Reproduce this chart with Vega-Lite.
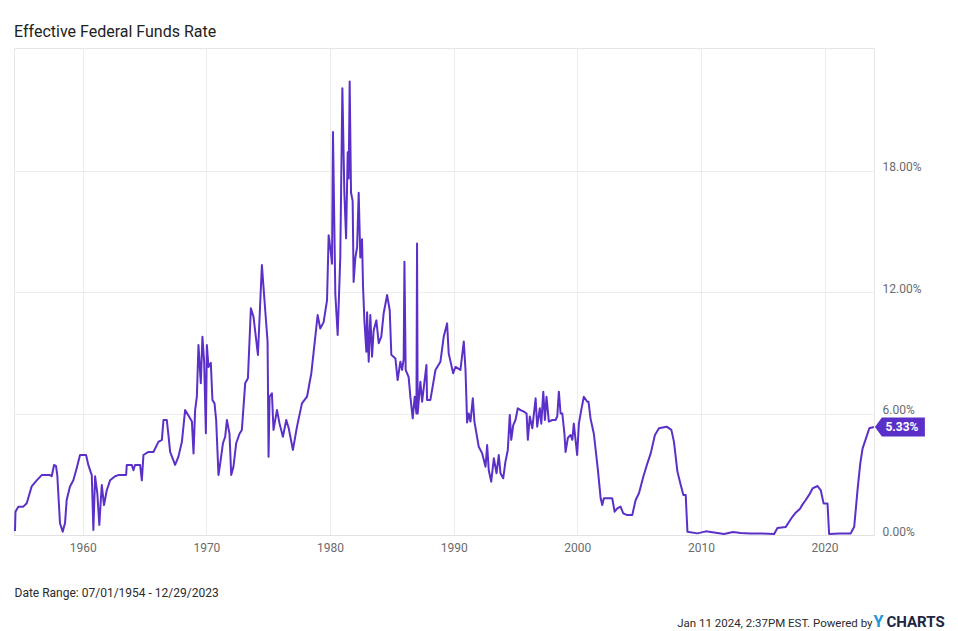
{
  "$schema": "https://vega.github.io/schema/vega-lite/v6.json",
  "width": 860,
  "height": 487,
  "autosize": {"type": "none"},
  "padding": {"left": 14, "top": 48, "right": 84, "bottom": 96},
  "background": "#ffffff",
  "title": {
    "text": "Effective Federal Funds Rate",
    "anchor": "start",
    "frame": "group",
    "font": "Roboto",
    "fontSize": 16,
    "fontWeight": "normal",
    "color": "#222222",
    "baseline": "alphabetic",
    "offset": 11,
    "dy": 16
  },
  "config": {
    "view": {"stroke": "#e6e6e6", "strokeWidth": 1},
    "axis": {"labelFont": "Roboto", "titleFont": "Roboto"}
  },
  "data": {
    "values": [
      {"year": 1954.52, "rate": 0.2}, {"year": 1954.56, "rate": 1.15}, {"year": 1954.79, "rate": 1.4}, {"year": 1955.19, "rate": 1.4},
      {"year": 1955.47, "rate": 1.57}, {"year": 1955.87, "rate": 2.4}, {"year": 1956.28, "rate": 2.7}, {"year": 1956.68, "rate": 2.96},
      {"year": 1957.35, "rate": 2.96}, {"year": 1957.49, "rate": 2.9}, {"year": 1957.68, "rate": 3.46}, {"year": 1957.84, "rate": 3.4},
      {"year": 1957.94, "rate": 2.96}, {"year": 1958.16, "rate": 0.58}, {"year": 1958.38, "rate": 0.16}, {"year": 1958.57, "rate": 0.6},
      {"year": 1958.7, "rate": 1.73}, {"year": 1958.97, "rate": 2.4}, {"year": 1959.24, "rate": 2.7}, {"year": 1959.51, "rate": 3.3},
      {"year": 1959.78, "rate": 3.95}, {"year": 1960.27, "rate": 3.95}, {"year": 1960.45, "rate": 3.46}, {"year": 1960.73, "rate": 2.96},
      {"year": 1960.86, "rate": 0.25}, {"year": 1961.0, "rate": 2.9}, {"year": 1961.18, "rate": 2.06}, {"year": 1961.34, "rate": 0.5},
      {"year": 1961.54, "rate": 2.47}, {"year": 1961.72, "rate": 1.48}, {"year": 1961.94, "rate": 2.2}, {"year": 1962.21, "rate": 2.7},
      {"year": 1962.62, "rate": 2.9}, {"year": 1962.88, "rate": 2.96}, {"year": 1963.51, "rate": 2.96}, {"year": 1963.56, "rate": 3.46},
      {"year": 1963.97, "rate": 3.46}, {"year": 1964.1, "rate": 3.2}, {"year": 1964.23, "rate": 3.46}, {"year": 1964.64, "rate": 3.46},
      {"year": 1964.78, "rate": 2.7}, {"year": 1964.91, "rate": 3.95}, {"year": 1965.31, "rate": 4.1}, {"year": 1965.72, "rate": 4.1},
      {"year": 1966.12, "rate": 4.6}, {"year": 1966.4, "rate": 4.7}, {"year": 1966.53, "rate": 5.68}, {"year": 1966.8, "rate": 5.68},
      {"year": 1966.93, "rate": 4.94}, {"year": 1967.07, "rate": 4.1}, {"year": 1967.47, "rate": 3.46}, {"year": 1967.74, "rate": 3.87},
      {"year": 1968.02, "rate": 4.6}, {"year": 1968.28, "rate": 6.17}, {"year": 1968.55, "rate": 5.9}, {"year": 1968.83, "rate": 5.6},
      {"year": 1968.96, "rate": 4.03}, {"year": 1969.09, "rate": 6.17}, {"year": 1969.23, "rate": 6.83}, {"year": 1969.36, "rate": 9.38},
      {"year": 1969.55, "rate": 7.5}, {"year": 1969.68, "rate": 9.79}, {"year": 1969.82, "rate": 8.56}, {"year": 1969.96, "rate": 5.02},
      {"year": 1970.04, "rate": 9.38}, {"year": 1970.17, "rate": 8.3}, {"year": 1970.36, "rate": 8.5}, {"year": 1970.49, "rate": 6.67},
      {"year": 1970.66, "rate": 6.5}, {"year": 1970.79, "rate": 5.68}, {"year": 1970.98, "rate": 2.96}, {"year": 1971.12, "rate": 3.54},
      {"year": 1971.34, "rate": 4.53}, {"year": 1971.52, "rate": 4.85}, {"year": 1971.66, "rate": 5.68}, {"year": 1971.87, "rate": 5.0},
      {"year": 1972.01, "rate": 2.96}, {"year": 1972.19, "rate": 3.37}, {"year": 1972.41, "rate": 4.53}, {"year": 1972.68, "rate": 5.0},
      {"year": 1972.87, "rate": 5.19}, {"year": 1973.14, "rate": 7.49}, {"year": 1973.36, "rate": 7.74}, {"year": 1973.6, "rate": 11.2},
      {"year": 1973.81, "rate": 10.78}, {"year": 1974.17, "rate": 8.89}, {"year": 1974.49, "rate": 13.33}, {"year": 1974.76, "rate": 11.1},
      {"year": 1974.95, "rate": 9.55}, {"year": 1975.03, "rate": 3.87}, {"year": 1975.11, "rate": 6.83}, {"year": 1975.3, "rate": 7.0},
      {"year": 1975.43, "rate": 5.19}, {"year": 1975.71, "rate": 6.17}, {"year": 1975.92, "rate": 5.5}, {"year": 1976.19, "rate": 4.85},
      {"year": 1976.46, "rate": 5.68}, {"year": 1976.65, "rate": 5.3}, {"year": 1977.0, "rate": 4.2}, {"year": 1977.33, "rate": 5.35},
      {"year": 1977.73, "rate": 6.5}, {"year": 1978.14, "rate": 6.83}, {"year": 1978.49, "rate": 7.99}, {"year": 1979.0, "rate": 10.86},
      {"year": 1979.21, "rate": 10.2}, {"year": 1979.48, "rate": 10.5}, {"year": 1979.76, "rate": 11.6}, {"year": 1979.89, "rate": 14.8},
      {"year": 1980.08, "rate": 13.9}, {"year": 1980.16, "rate": 13.4}, {"year": 1980.24, "rate": 19.9}, {"year": 1980.43, "rate": 11.9},
      {"year": 1980.62, "rate": 9.88}, {"year": 1980.83, "rate": 13.7}, {"year": 1981.0, "rate": 22.06}, {"year": 1981.16, "rate": 16.9},
      {"year": 1981.3, "rate": 14.65}, {"year": 1981.43, "rate": 18.9}, {"year": 1981.51, "rate": 17.6}, {"year": 1981.59, "rate": 22.4},
      {"year": 1981.7, "rate": 16.9}, {"year": 1981.83, "rate": 16.5}, {"year": 1981.91, "rate": 12.5}, {"year": 1982.05, "rate": 13.7},
      {"year": 1982.19, "rate": 14.2}, {"year": 1982.32, "rate": 16.9}, {"year": 1982.45, "rate": 13.7}, {"year": 1982.59, "rate": 14.6},
      {"year": 1982.67, "rate": 12.3}, {"year": 1982.78, "rate": 10.6}, {"year": 1982.94, "rate": 9.05}, {"year": 1983.0, "rate": 11.0},
      {"year": 1983.13, "rate": 8.56}, {"year": 1983.26, "rate": 10.86}, {"year": 1983.4, "rate": 8.8}, {"year": 1983.53, "rate": 10.1},
      {"year": 1983.75, "rate": 10.6}, {"year": 1983.94, "rate": 9.47}, {"year": 1984.15, "rate": 9.8}, {"year": 1984.34, "rate": 10.95},
      {"year": 1984.62, "rate": 11.85}, {"year": 1984.83, "rate": 11.1}, {"year": 1984.96, "rate": 8.9}, {"year": 1985.29, "rate": 8.72},
      {"year": 1985.47, "rate": 7.65}, {"year": 1985.69, "rate": 8.56}, {"year": 1985.83, "rate": 8.15}, {"year": 1985.96, "rate": 8.7},
      {"year": 1986.02, "rate": 13.5}, {"year": 1986.12, "rate": 8.15}, {"year": 1986.36, "rate": 7.8}, {"year": 1986.5, "rate": 6.83},
      {"year": 1986.69, "rate": 5.76}, {"year": 1986.85, "rate": 6.83}, {"year": 1986.99, "rate": 6.0}, {"year": 1987.04, "rate": 14.4},
      {"year": 1987.09, "rate": 6.0}, {"year": 1987.31, "rate": 7.57}, {"year": 1987.45, "rate": 6.58}, {"year": 1987.8, "rate": 8.4},
      {"year": 1987.85, "rate": 6.67}, {"year": 1988.12, "rate": 6.67}, {"year": 1988.53, "rate": 8.15}, {"year": 1988.93, "rate": 8.56},
      {"year": 1989.2, "rate": 9.8}, {"year": 1989.47, "rate": 10.45}, {"year": 1989.6, "rate": 8.97}, {"year": 1989.96, "rate": 7.99},
      {"year": 1990.15, "rate": 8.3}, {"year": 1990.55, "rate": 8.15}, {"year": 1990.82, "rate": 9.55}, {"year": 1990.96, "rate": 8.15},
      {"year": 1991.09, "rate": 5.55}, {"year": 1991.22, "rate": 6.0}, {"year": 1991.36, "rate": 5.6}, {"year": 1991.55, "rate": 6.75},
      {"year": 1991.68, "rate": 5.6}, {"year": 1992.03, "rate": 4.36}, {"year": 1992.31, "rate": 4.03}, {"year": 1992.58, "rate": 3.37},
      {"year": 1992.71, "rate": 4.44}, {"year": 1992.84, "rate": 3.2}, {"year": 1993.04, "rate": 2.63}, {"year": 1993.25, "rate": 3.79},
      {"year": 1993.47, "rate": 3.05}, {"year": 1993.65, "rate": 3.95}, {"year": 1993.79, "rate": 3.05}, {"year": 1994.01, "rate": 2.8},
      {"year": 1994.19, "rate": 3.62}, {"year": 1994.38, "rate": 4.2}, {"year": 1994.54, "rate": 5.93}, {"year": 1994.66, "rate": 4.7},
      {"year": 1994.82, "rate": 5.43}, {"year": 1995.0, "rate": 5.68}, {"year": 1995.19, "rate": 6.26}, {"year": 1995.41, "rate": 6.17},
      {"year": 1995.68, "rate": 6.09}, {"year": 1995.9, "rate": 6.0}, {"year": 1996.0, "rate": 4.7}, {"year": 1996.16, "rate": 5.85},
      {"year": 1996.36, "rate": 5.27}, {"year": 1996.63, "rate": 6.75}, {"year": 1996.76, "rate": 5.35}, {"year": 1996.97, "rate": 6.26},
      {"year": 1997.09, "rate": 5.5}, {"year": 1997.25, "rate": 7.08}, {"year": 1997.38, "rate": 5.68}, {"year": 1997.51, "rate": 6.83},
      {"year": 1997.7, "rate": 5.6}, {"year": 1997.98, "rate": 5.68}, {"year": 1998.24, "rate": 5.68}, {"year": 1998.38, "rate": 5.85},
      {"year": 1998.51, "rate": 7.08}, {"year": 1998.65, "rate": 6.0}, {"year": 1998.79, "rate": 6.0}, {"year": 1998.97, "rate": 4.94},
      {"year": 1999.05, "rate": 4.1}, {"year": 1999.24, "rate": 4.8}, {"year": 1999.46, "rate": 4.94}, {"year": 1999.6, "rate": 4.7},
      {"year": 1999.72, "rate": 5.5}, {"year": 1999.99, "rate": 3.95}, {"year": 2000.13, "rate": 5.5}, {"year": 2000.32, "rate": 6.17},
      {"year": 2000.53, "rate": 6.83}, {"year": 2000.81, "rate": 6.58}, {"year": 2000.91, "rate": 6.58}, {"year": 2001.07, "rate": 5.76},
      {"year": 2001.34, "rate": 5.0}, {"year": 2001.67, "rate": 3.2}, {"year": 2001.89, "rate": 1.81}, {"year": 2002.02, "rate": 1.48},
      {"year": 2002.15, "rate": 1.81}, {"year": 2002.83, "rate": 1.81}, {"year": 2003.02, "rate": 1.15}, {"year": 2003.24, "rate": 1.32},
      {"year": 2003.5, "rate": 1.4}, {"year": 2003.72, "rate": 1.07}, {"year": 2004.0, "rate": 0.99}, {"year": 2004.45, "rate": 0.99},
      {"year": 2004.72, "rate": 1.73}, {"year": 2004.99, "rate": 2.06}, {"year": 2005.34, "rate": 2.88}, {"year": 2005.67, "rate": 3.54},
      {"year": 2005.94, "rate": 4.03}, {"year": 2006.28, "rate": 4.94}, {"year": 2006.61, "rate": 5.27}, {"year": 2007.23, "rate": 5.35},
      {"year": 2007.61, "rate": 5.19}, {"year": 2007.82, "rate": 4.6}, {"year": 2008.1, "rate": 3.13}, {"year": 2008.37, "rate": 2.47},
      {"year": 2008.58, "rate": 1.98}, {"year": 2008.77, "rate": 1.98}, {"year": 2008.91, "rate": 0.16}, {"year": 2009.72, "rate": 0.08},
      {"year": 2010.4, "rate": 0.18}, {"year": 2010.8, "rate": 0.15}, {"year": 2011.87, "rate": 0.05}, {"year": 2012.6, "rate": 0.15},
      {"year": 2013.22, "rate": 0.1}, {"year": 2014.0, "rate": 0.07}, {"year": 2014.84, "rate": 0.08}, {"year": 2015.92, "rate": 0.05},
      {"year": 2016.19, "rate": 0.35}, {"year": 2016.87, "rate": 0.4}, {"year": 2017.13, "rate": 0.65}, {"year": 2017.4, "rate": 0.9},
      {"year": 2017.62, "rate": 1.07}, {"year": 2018.02, "rate": 1.3}, {"year": 2018.21, "rate": 1.5}, {"year": 2018.48, "rate": 1.73},
      {"year": 2018.75, "rate": 1.98}, {"year": 2019.03, "rate": 2.3}, {"year": 2019.43, "rate": 2.42}, {"year": 2019.7, "rate": 2.2},
      {"year": 2019.92, "rate": 1.56}, {"year": 2020.24, "rate": 1.56}, {"year": 2020.37, "rate": 0.05}, {"year": 2021.2, "rate": 0.07},
      {"year": 2022.12, "rate": 0.08}, {"year": 2022.4, "rate": 0.41}, {"year": 2022.68, "rate": 2.3}, {"year": 2022.89, "rate": 3.54},
      {"year": 2023.08, "rate": 4.28}, {"year": 2023.35, "rate": 4.77}, {"year": 2023.62, "rate": 5.27}, {"year": 2023.99, "rate": 5.33}
    ]
  },
  "resolve": {"axis": {"x": "independent", "y": "independent"}},
  "layer": [
    {
      "mark": {"type": "line", "color": "#5b30c8", "strokeWidth": 2, "strokeJoin": "round"},
      "encoding": {
        "x": {
          "field": "year", "type": "quantitative",
          "scale": {"domain": [1954.44, 2024.0], "nice": false, "zero": false},
          "axis": {
            "orient": "bottom",
            "values": [1960, 1970, 1980, 1990, 2000, 2010, 2020],
            "format": "d",
            "grid": true, "gridColor": "#ececec",
            "ticks": false,
            "domain": true, "domainColor": "#e2e2e2",
            "labelColor": "#6b6b6b", "labelFontSize": 12, "labelPadding": 7,
            "title": "Date Range: 07/01/1954 - 12/29/2023",
            "titleFontSize": 12, "titleFontWeight": "normal", "titleColor": "#2b2b2b",
            "titleAnchor": "start", "titleAlign": "left", "titleBaseline": "alphabetic",
            "titleX": 0, "titleY": 61
          }
        },
        "y": {
          "field": "rate", "type": "quantitative",
          "scale": {"domain": [0, 24.05], "nice": false},
          "axis": {
            "orient": "right",
            "values": [0, 6, 12, 18],
            "labelExpr": "format(datum.value, '.2f') + '%'",
            "grid": true, "gridColor": "#ececec",
            "ticks": false, "domain": false,
            "labelColor": "#6b6b6b", "labelFontSize": 12, "labelPadding": 8,
            "labelBaseline": "alphabetic",
            "title": "Jan 11 2024, 2:37PM EST. Powered by",
            "titleAngle": 0, "titleFontSize": 11.5, "titleFontWeight": "normal", "titleColor": "#2b2b2b",
            "titleAlign": "right", "titleBaseline": "alphabetic",
            "titleX": -2, "titleY": 578
          }
        }
      }
    },
    {
      "transform": [{"filter": "datum.year > 2023.9"}],
      "mark": {
        "type": "point",
        "shape": "M1,0L8,-9.5L51,-9.5L51,9.5L8,9.5Z",
        "size": 4,
        "filled": true,
        "color": "#5b30c8",
        "opacity": 1,
        "strokeWidth": 0
      },
      "encoding": {
        "x": {
          "field": "year", "type": "quantitative",
          "axis": {
            "orient": "bottom",
            "labels": false, "ticks": false, "domain": false, "grid": false,
            "title": "CHARTS",
            "titleFontSize": 15, "titleFontWeight": "bold", "titleColor": "#1c2541",
            "titleAnchor": "start", "titleAlign": "left", "titleBaseline": "alphabetic",
            "titleX": 872, "titleY": 91
          }
        },
        "y": {
          "field": "rate", "type": "quantitative",
          "axis": {
            "orient": "right",
            "labels": false, "ticks": false, "domain": false, "grid": false,
            "title": "Y",
            "titleAngle": 0, "titleFontSize": 16, "titleFontWeight": "bold", "titleColor": "#2196d6",
            "titleAlign": "left", "titleBaseline": "alphabetic",
            "titleX": -1, "titleY": 578
          }
        }
      }
    },
    {
      "transform": [
        {"filter": "datum.year > 2023.9"},
        {"calculate": "format(datum.rate, '.2f') + '%'", "as": "label"}
      ],
      "mark": {
        "type": "text",
        "dx": 28,
        "align": "center",
        "baseline": "middle",
        "font": "Roboto",
        "fontSize": 12,
        "fontWeight": "bold",
        "color": "#ffffff"
      },
      "encoding": {
        "x": {"field": "year", "type": "quantitative", "axis": null},
        "y": {"field": "rate", "type": "quantitative", "axis": null},
        "text": {"field": "label", "type": "nominal"}
      }
    }
  ]
}
